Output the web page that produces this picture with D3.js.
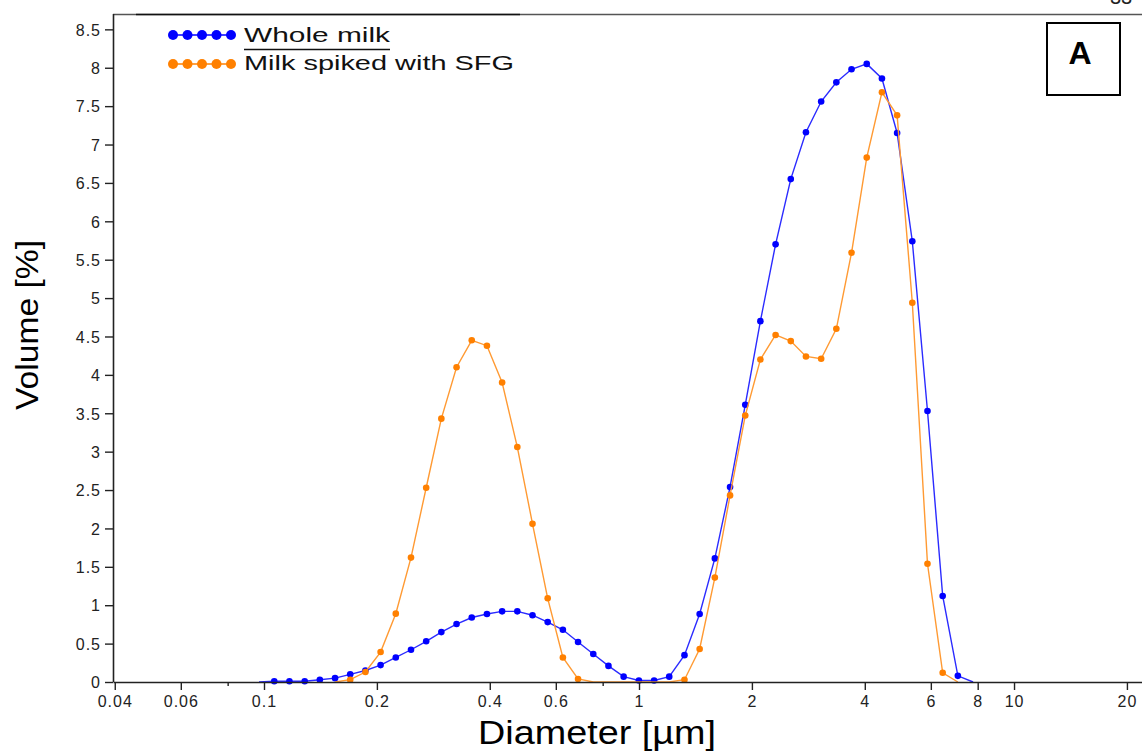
<!DOCTYPE html>
<html>
<head>
<meta charset="utf-8">
<script src="https://cdn.jsdelivr.net/npm/d3@7"></script>
<style>
  body { margin: 0; background: #fff; }
  svg { display: block; font-family: "Liberation Sans", Arial, sans-serif; }
</style>
</head>
<body>
<svg></svg>
<script>
const width = 1142;
const height = 752;

// channel centres (µm), log spaced
const diameters = [
  0.0970, 0.1065, 0.1169, 0.1284, 0.1409, 0.1547, 0.1698, 0.1864, 0.2046, 0.2246,
  0.2466, 0.2707, 0.2971, 0.3262, 0.3581, 0.3931, 0.4315, 0.4737, 0.5200, 0.5708,
  0.6266, 0.6878, 0.7551, 0.8289, 0.9099, 0.9992, 1.097, 1.204, 1.322, 1.451,
  1.593, 1.749, 1.920, 2.107, 2.313, 2.539, 2.787, 3.060, 3.359, 3.687,
  4.048, 4.444, 4.878, 5.355, 5.878, 6.453, 7.083, 7.776,
];

// Volume [%]
const wholeMilk = [
  0, 0.01, 0.01, 0.01, 0.03, 0.05, 0.10, 0.15, 0.22, 0.32,
  0.42, 0.53, 0.65, 0.755, 0.84, 0.885, 0.92, 0.92, 0.87, 0.78,
  0.68, 0.52, 0.365, 0.21, 0.07, 0.02, 0.02, 0.07, 0.35, 0.885,
  1.61, 2.54, 3.61, 4.70, 5.70, 6.55, 7.16, 7.56, 7.81, 7.98,
  8.05, 7.86, 7.15, 5.74, 3.53, 1.12, 0.08, 0,
];

const spikedMilk = [
  null, null, null, null, null, 0, 0.03, 0.13, 0.39, 0.89,
  1.62, 2.53, 3.43, 4.10, 4.45, 4.38, 3.90, 3.06, 2.06, 1.09,
  0.32, 0.04, 0, 0, 0, 0, 0, 0, 0.03, 0.43,
  1.36, 2.43, 3.47, 4.20, 4.52, 4.44, 4.24, 4.21, 4.60, 5.59,
  6.83, 7.68, 7.38, 4.94, 1.54, 0.12, 0, null,
];

const seriesNames = ["Whole milk", "Milk spiked with SFG"];
const seriesColors = ["#0000ff", "#ff8000"];
const lineColors = ["#2b2bff", "#ff9a33"];

const xTicks = [0.04, 0.06, 0.1, 0.2, 0.4, 0.6, 1, 2, 4, 6, 8, 10, 20];
const xMinorTicks = [0.08, 0.8];
const yTicks = [0, 0.5, 1, 1.5, 2, 2.5, 3, 3.5, 4, 4.5, 5, 5.5, 6, 6.5, 7, 7.5, 8, 8.5];

const plotLeft = 113;
const plotTop = 14;
const plotBottom = 682;

let svg = d3.select("svg").attr("width", width).attr("height", height);

svg.append("rect").attr("width", width).attr("height", height).attr("fill", "#fff");

const x = d3.scaleLog().domain([0.03957, 21.94]).range([plotLeft, width]);
const y = d3.scaleLinear().domain([0, 8.7]).range([plotBottom, plotTop]);

// frame top
svg.append("line")
  .attr("x1", plotLeft).attr("x2", width).attr("y1", plotTop + 0.5).attr("y2", plotTop + 0.5)
  .attr("stroke", "#555").attr("stroke-width", 1.3);
svg.append("line")
  .attr("x1", 136).attr("x2", 520).attr("y1", plotTop + 0.5).attr("y2", plotTop + 0.5)
  .attr("stroke", "#111").attr("stroke-width", 1.6);

// series
const series = [wholeMilk, spikedMilk].map((vals, i) => ({
  name: seriesNames[i],
  dot: seriesColors[i],
  line: lineColors[i],
  points: diameters.map((d, j) => ({ d: d, v: vals[j] })),
}));

const line = d3.line()
  .defined((p) => p.v != null)
  .x((p) => x(p.d))
  .y((p) => y(p.v));

series.forEach((s) => {
  const g = svg.append("g");
  g.append("path")
    .attr("d", line(s.points))
    .attr("fill", "none")
    .attr("stroke", s.line)
    .attr("stroke-width", 1.4);
  g.selectAll("circle")
    .data(s.points.filter((p) => p.v != null && p.v > 0))
    .enter()
    .append("circle")
    .attr("cx", (p) => x(p.d))
    .attr("cy", (p) => y(p.v))
    .attr("r", 3.3)
    .attr("fill", s.dot);
});

// axes
svg.append("g")
  .attr("transform", `translate(0,${plotBottom})`)
  .call(d3.axisBottom(x).tickValues(xTicks).tickFormat((d) => String(d))
    .tickSize(8).tickSizeOuter(0).tickPadding(6));

svg.append("g")
  .attr("transform", `translate(0,${plotBottom})`)
  .call(d3.axisBottom(x).tickValues(xMinorTicks).tickFormat("").tickSize(4).tickSizeOuter(0))
  .call((g) => g.select(".domain").remove());

const yAxis = svg.append("g")
  .attr("transform", `translate(${plotLeft},0)`)
  .call(d3.axisLeft(y).tickValues(yTicks).tickFormat((d) => String(d))
    .tickSize(8).tickSizeOuter(0).tickPadding(4));

yAxis.select(".domain").attr("d", `M0.5,${plotTop}V${plotBottom}`);

svg.selectAll(".domain").attr("stroke", "#222").attr("stroke-width", 1.6);
svg.selectAll(".tick line").attr("stroke", "#222").attr("stroke-width", 1.4);
svg.selectAll(".tick text")
  .attr("font-family", "Liberation Sans, Arial, sans-serif")
  .attr("font-size", 16)
  .attr("letter-spacing", 1)
  .attr("fill", "#222");
yAxis.selectAll(".tick text").attr("dy", "0.36em");

// titles
svg.append("text")
  .attr("x", 597).attr("y", 744)
  .attr("text-anchor", "middle")
  .attr("font-size", 33)
  .attr("textLength", 238)
  .attr("lengthAdjust", "spacingAndGlyphs")
  .text("Diameter [µm]");

svg.append("text")
  .attr("transform", "translate(38,325) rotate(-90)")
  .attr("text-anchor", "middle")
  .attr("font-size", 32)
  .attr("textLength", 170)
  .attr("lengthAdjust", "spacingAndGlyphs")
  .text("Volume [%]");

// legend
const legend = svg.append("g");
const legendRows = [35, 64];
const legendTextY = [42, 70];
const legendTextLen = [146, 270];
series.forEach((s, i) => {
  const row = legend.append("g");
  row.append("line")
    .attr("x1", 173).attr("x2", 231)
    .attr("y1", legendRows[i]).attr("y2", legendRows[i])
    .attr("stroke", s.dot).attr("stroke-width", 1.5);
  row.selectAll("circle")
    .data(d3.range(5))
    .enter()
    .append("circle")
    .attr("cx", (k) => 173 + k * 14.5)
    .attr("cy", legendRows[i])
    .attr("r", 5)
    .attr("fill", s.dot);
  row.append("text")
    .attr("x", 244).attr("y", legendTextY[i])
    .attr("font-size", 20)
    .attr("textLength", legendTextLen[i])
    .attr("lengthAdjust", "spacingAndGlyphs")
    .attr("fill", "#111")
    .text(s.name);
});
legend.append("line")
  .attr("x1", 244).attr("x2", 390).attr("y1", 49.5).attr("y2", 49.5)
  .attr("stroke", "#111").attr("stroke-width", 1.4);

// panel letter
svg.append("rect")
  .attr("x", 1047).attr("y", 23).attr("width", 73).attr("height", 72)
  .attr("fill", "none").attr("stroke", "#000").attr("stroke-width", 2);
svg.append("text")
  .attr("x", 1080).attr("y", 64)
  .attr("text-anchor", "middle")
  .attr("font-size", 32)
  .attr("font-weight", "bold")
  .text("A");

// page number cut off at the top
svg.append("text")
  .attr("x", 1110).attr("y", 4)
  .attr("font-size", 20)
  .attr("fill", "#222")
  .text("33");
</script>
</body>
</html>
